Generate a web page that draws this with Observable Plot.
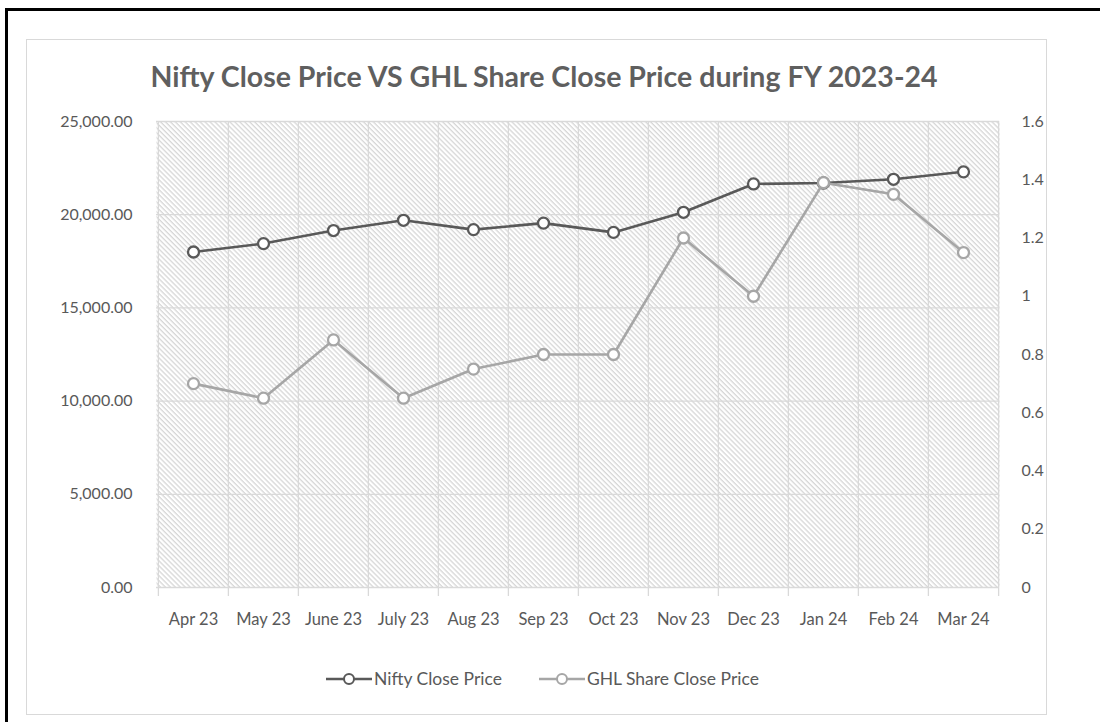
<!DOCTYPE html>
<html><head><meta charset="utf-8">
<script src="https://cdn.jsdelivr.net/npm/d3@7"></script>
<script src="https://cdn.jsdelivr.net/npm/@observablehq/plot@0.6"></script>
<style>
body{margin:0;background:#fff;}
#wrap{position:relative;width:1100px;height:722px;overflow:hidden;font-family:Lato,"Open Sans",sans-serif;color:#595959;}
#outer{position:absolute;left:5px;top:8px;width:1100px;height:800px;border:3px solid #000;box-sizing:border-box;}
#inner{position:absolute;left:26px;top:39px;width:1021px;height:676px;border:1px solid #d9d9d9;box-sizing:border-box;}
#title{position:absolute;left:0;top:59px;width:1088px;text-align:center;font-weight:bold;font-size:28.5px;color:#5f5f5f;white-space:nowrap;}
#chart{position:absolute;left:0;top:0;}
#legend{position:absolute;left:0;top:668px;width:1084px;display:flex;justify-content:center;gap:36px;font-size:17.5px;color:#595959;}
.item{display:flex;align-items:center;gap:1px;}
</style>
</head><body>
<div id="wrap">
  <div id="outer"></div>
  <div id="inner"></div>
  <div id="chart"></div>
  <div id="title">Nifty Close Price VS GHL Share Close Price during FY 2023-24</div>
  <div id="legend"></div>
</div>
<script>
const months = ["Apr 23","May 23","June 23","July 23","Aug 23","Sep 23","Oct 23","Nov 23","Dec 23","Jan 24","Feb 24","Mar 24"];
const niftyClose = [18000,18450,19150,19700,19200,19550,19050,20130,21650,21700,21900,22300];
const ghlClose = [0.70,0.65,0.85,0.65,0.75,0.80,0.80,1.20,1.00,1.39,1.35,1.15];
const leftTicks = [0,5000,10000,15000,20000,25000];
const rightTicks = [0,0.2,0.4,0.6,0.8,1,1.2,1.4,1.6];
const seriesNames = ["Nifty Close Price","GHL Share Close Price"];
const seriesColors = ["#595959","#a6a6a6"];

const leftMax = 25000, rightMax = 1.6;
const ratio = leftMax / rightMax;
const data = months.map((m,i)=>({month:m, nifty:niftyClose[i], ghl:ghlClose[i]*ratio}));

const W = 1100, H = 722, mL = 156, mR = 101, mT = 121, mB = 135;
const bw = (W - mL - mR) / months.length;

const chart = Plot.plot({
  width: W, height: H,
  marginLeft: mL, marginRight: mR, marginTop: mT, marginBottom: mB,
  style: {fontFamily: "Lato, 'Open Sans', sans-serif", fontSize: "16px", color: "#595959", background: "transparent"},
  x: {type: "band", domain: months, padding: 0, label: null},
  y: {domain: [0, leftMax], label: null},
  marks: [
    Plot.frame({fill: "url(#hatch)", stroke: null}),
    Plot.gridY(leftTicks, {stroke: "#d9d9d9", strokeOpacity: 1, strokeWidth: 1.3}),
    Plot.ruleX(months, {x: d => d, dx: -bw/2, stroke: "#d9d9d9", strokeWidth: 1.3, insetBottom: -9}),
    Plot.ruleX([months[months.length-1]], {x: d => d, dx: bw/2, stroke: "#d9d9d9", strokeWidth: 1.3, insetBottom: -9}),
    Plot.axisY(leftTicks, {anchor: "left", tickSize: 0, tickPadding: 24, tickFormat: d3.format(",.2f"), fontSize: 16}),
    Plot.axisY(rightTicks.map(t => t*ratio), {anchor: "right", tickSize: 0, tickPadding: 22, tickFormat: d => String(Math.round(d/ratio*10)/10), fontSize: 16}),
    Plot.axisX({tickSize: 0, tickPadding: 26, fontSize: 16.5}),
    Plot.line(data, {x: "month", y: "nifty", stroke: seriesColors[0], strokeWidth: 2.6}),
    Plot.dot(data, {x: "month", y: "nifty", r: 5.5, fill: "white", stroke: seriesColors[0], strokeWidth: 2.3}),
    Plot.line(data, {x: "month", y: "ghl", stroke: seriesColors[1], strokeWidth: 2.6}),
    Plot.dot(data, {x: "month", y: "ghl", r: 5.5, fill: "white", stroke: seriesColors[1], strokeWidth: 2.3})
  ]
});

const defs = d3.select(chart).insert("defs", ":first-child");
const pat = defs.append("pattern").attr("id","hatch").attr("patternUnits","userSpaceOnUse")
  .attr("width",3.5).attr("height",3.5).attr("patternTransform","rotate(45)");
pat.append("rect").attr("width",3.5).attr("height",3.5).attr("fill","#ffffff");
pat.append("rect").attr("width",3.5).attr("height",1.3).attr("fill","#d6d6d6");

document.getElementById("chart").appendChild(chart);

const legend = d3.select("#legend");
seriesNames.forEach((name,i)=>{
  const it = legend.append("div").attr("class","item");
  const s = it.append("svg").attr("width",48).attr("height",14);
  s.append("line").attr("x1",1).attr("x2",47).attr("y1",7).attr("y2",7).attr("stroke",seriesColors[i]).attr("stroke-width",2.5);
  s.append("circle").attr("cx",24).attr("cy",7).attr("r",5).attr("fill","white").attr("stroke",seriesColors[i]).attr("stroke-width",2);
  it.append("span").text(name);
});
</script>
</body></html>
